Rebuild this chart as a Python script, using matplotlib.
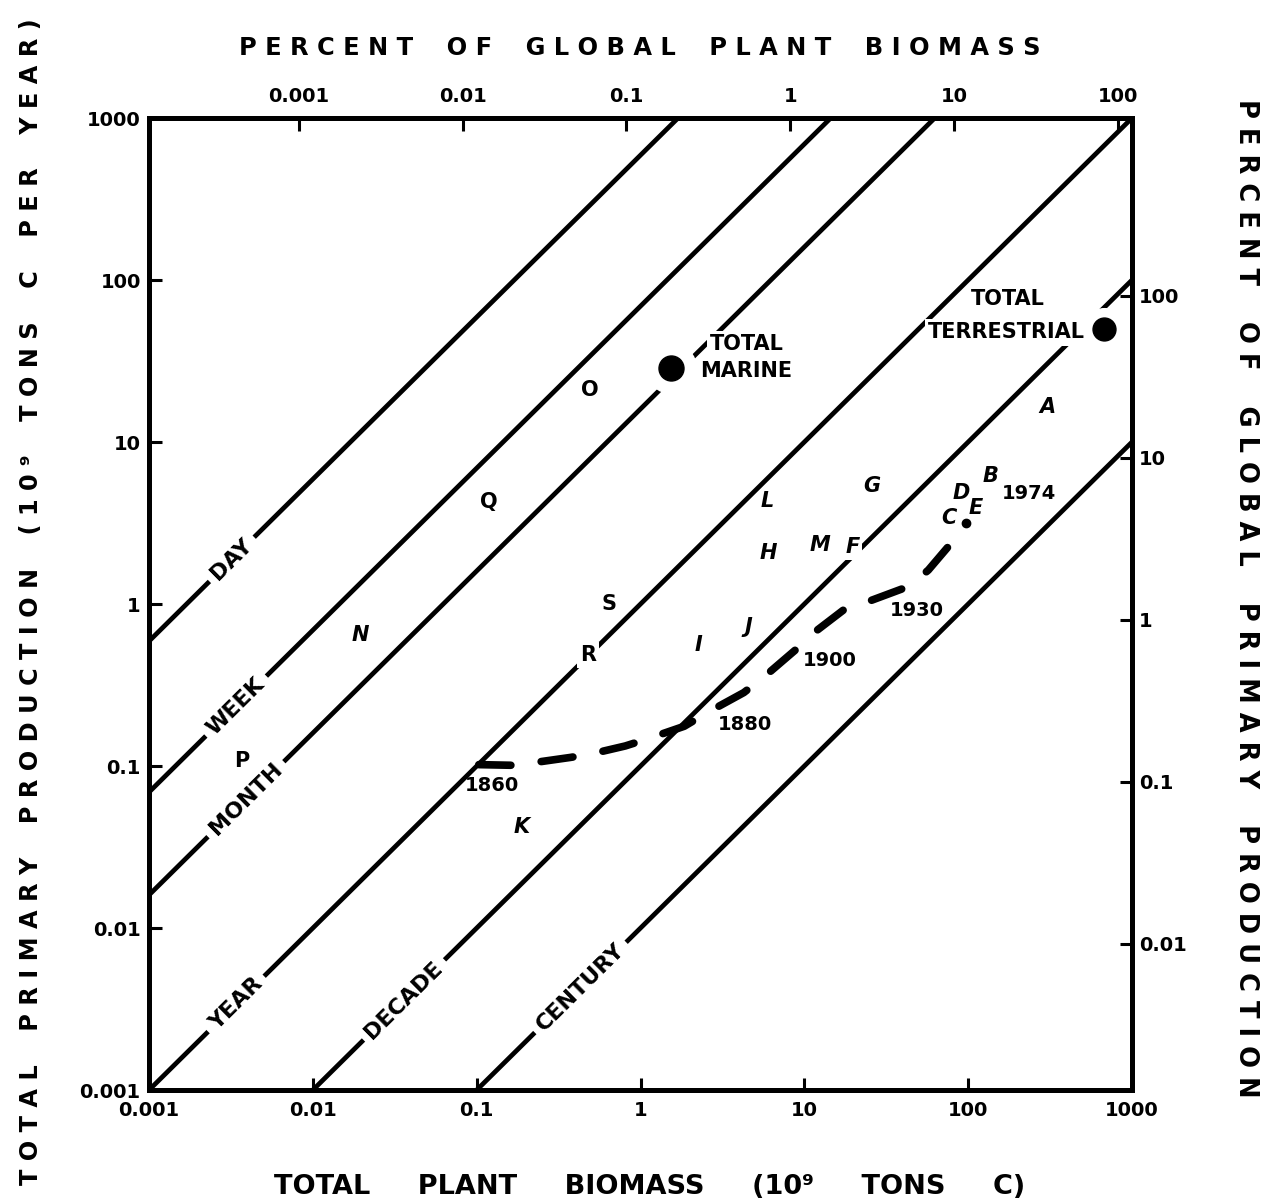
import matplotlib
matplotlib.use('Agg')
import matplotlib.pyplot as plt
from matplotlib.ticker import NullLocator
import numpy as np

plt.rcParams['font.family'] = ['DejaVu Sans']
plt.rcParams['font.weight'] = 'bold'

# axis ticks (10^9 tons C, 10^9 tons C per year)
decades = [0.001, 0.01, 0.1, 1, 10, 100, 1000]
decade_labels = ['0.001', '0.01', '0.1', '1', '10', '100', '1000']

# percent axes
pct_biomass_ticks = [0.001, 0.01, 0.1, 1, 10, 100]
pct_biomass_labels = ['0.001', '0.01', '0.1', '1', '10', '100']
pct_prod_ticks = [0.01, 0.1, 1, 10, 100]
pct_prod_labels = ['0.01', '0.1', '1', '10', '100']
global_biomass = 820.0     # 100 % of plant biomass
global_production = 80.0   # 100 % of primary production

# turnover lines: production / biomass
turnover_names = ['DAY', 'WEEK', 'MONTH', 'YEAR', 'DECADE', 'CENTURY']
turnover_ratio = [590, 69, 16, 1, 0.1, 0.01]
turnover_label_x = [0.0032, 0.0034, 0.0039, 0.0034, 0.036, 0.43]

# lettered points
point_names = ['O', 'Q', 'N', 'P', 'S', 'R', 'K', 'L', 'G', 'H',
               'M', 'F', 'I', 'J', 'A', 'D', 'B', 'E', 'C']
point_biomass = [0.493, 0.118, 0.0194, 0.00366, 0.640, 0.480, 0.187, 5.96, 25.7, 6.01,
                 12.5, 19.6, 2.25, 4.53, 305, 91.2, 137, 111, 76.2]
point_production = [20.8, 4.26, 0.644, 0.108, 1.0, 0.485, 0.0422, 4.35, 5.35, 2.06,
                    2.33, 2.25, 0.555, 0.721, 16.4, 4.85, 6.2, 3.94, 3.40]
point_italic = [False, False, True, False, False, False, True, True, True, True,
                True, True, True, True, True, True, True, True, True]
small_dot = (96.8, 3.18)

# 1860 -> 1974 trajectory
traj_biomass = [0.103, 0.170, 0.216, 0.373, 0.487, 0.807, 1.08, 1.85, 2.54,
                4.27, 5.71, 8.79, 11.8, 18.4, 25.4, 43.9, 57.1, 80.9]
traj_production = [0.102, 0.101, 0.1045, 0.113, 0.118, 0.133, 0.146, 0.176, 0.213,
                   0.284, 0.357, 0.519, 0.682, 0.962, 1.05, 1.29, 1.62, 2.45]
year_names = ['1860', '1880', '1900', '1930', '1974']
year_biomass = [0.124, 4.35, 14.2, 48.6, 234]
year_production = [0.0759, 0.181, 0.447, 0.908, 4.78]

# totals
marine = (1.53, 28.8)
terrestrial = (670, 49.9)


def spaced(words, gap='    '):
    return gap.join(' '.join(w) for w in words)


fig = plt.figure(figsize=(12.61, 12.03), dpi=100)
ax = fig.add_axes([0.1182, 0.0939, 0.7795, 0.8080])
ax.set_xscale('log')
ax.set_yscale('log')
ax.set_xlim(0.001, 1000)
ax.set_ylim(0.001, 1000)

for s in ax.spines.values():
    s.set_linewidth(3.6)

ax.set_xticks(decades, labels=decade_labels)
ax.set_yticks(decades, labels=decade_labels)
ax.xaxis.set_minor_locator(NullLocator())
ax.yaxis.set_minor_locator(NullLocator())
ax.tick_params(direction='in', length=9, width=2.2, labelsize=14, top=False, right=False)
ax.tick_params(axis='x', pad=8)
ax.tick_params(axis='y', pad=6)

secx = ax.secondary_xaxis('top', functions=(lambda x: x / global_biomass * 100,
                                             lambda p: p * global_biomass / 100))
secx.set_ticks(pct_biomass_ticks, labels=pct_biomass_labels)
secx.xaxis.set_minor_locator(NullLocator())
secx.tick_params(direction='in', length=9, width=2.2, labelsize=14, pad=9)
secx.spines['top'].set_linewidth(3.6)

secy = ax.secondary_yaxis('right', functions=(lambda y: y / global_production * 100,
                                               lambda p: p * global_production / 100))
secy.set_ticks(pct_prod_ticks, labels=pct_prod_labels)
secy.yaxis.set_minor_locator(NullLocator())
secy.tick_params(direction='in', length=9, width=2.2, labelsize=14, pad=5)
secy.spines['right'].set_linewidth(3.6)

# angle of a slope-1 line on screen
p0 = ax.transData.transform((1, 1))
p1 = ax.transData.transform((10, 10))
angle = np.degrees(np.arctan2(p1[1] - p0[1], p1[0] - p0[0]))

white_box = dict(boxstyle='square,pad=0.15', fc='white', ec='none')

for name, r, lx in zip(turnover_names, turnover_ratio, turnover_label_x):
    ax.axline((1, r), (10, 10 * r), color='black', lw=3.4, zorder=2)
    ax.text(lx, lx * r, name, rotation=angle, rotation_mode='anchor',
            ha='center', va='center', fontsize=16, zorder=4,
            bbox=dict(boxstyle='square,pad=0.3', fc='white', ec='none'))

# trajectory
ax.plot(traj_biomass, traj_production, color='black', lw=5.5,
        linestyle=(0, (4.2, 4.0)), dash_capstyle='round', zorder=3)
for name, x, y in zip(year_names, year_biomass, year_production):
    ax.text(x, y, name, ha='center', va='center', fontsize=14, zorder=4)

# letters; R and F sit on a line, which is broken around them
for name, x, y, it in zip(point_names, point_biomass, point_production, point_italic):
    ax.text(x, y, name, ha='center', va='center', fontsize=15,
            style='italic' if it else 'normal', zorder=4,
            bbox=white_box if name in ('R', 'F') else None)
ax.plot(*small_dot, 'o', color='black', ms=6, zorder=4)

# totals
ax.plot(*marine, 'o', color='white', ms=36, zorder=2.2)
ax.plot(*marine, 'o', color='black', ms=18, zorder=3)
ax.plot(*terrestrial, 'o', color='white', ms=30, zorder=2.2)
ax.plot(*terrestrial, 'o', color='black', ms=16.5, zorder=3)
ax.text(4.45, 40.4, 'TOTAL', ha='center', va='center', fontsize=15, zorder=4, bbox=white_box)
ax.text(4.42, 27.3, 'MARINE', ha='center', va='center', fontsize=15, zorder=4, bbox=white_box)
ax.text(175, 76, 'TOTAL', ha='center', va='center', fontsize=15, zorder=4, bbox=white_box)
ax.text(172, 47.5, 'TERRESTRIAL', ha='center', va='center', fontsize=15, zorder=4, bbox=white_box)

# axis titles
fig.text(0.507, 0.960, spaced(['PERCENT', 'OF', 'GLOBAL', 'PLANT', 'BIOMASS']),
         ha='center', va='center', fontsize=17.4)
fig.text(0.5155, 1 - 1187 / 1203, 'TOTAL     PLANT     BIOMASS     (10⁹     TONS     C)',
         ha='center', va='center', fontsize=19.5)
fig.text(31 / 1261, 0.5, spaced(['TOTAL', 'PRIMARY', 'PRODUCTION', '(10⁹', 'TONS', 'C', 'PER', 'YEAR)']),
         rotation=90, ha='center', va='center', fontsize=17.3)
fig.text(1246 / 1261, 1 - 598 / 1203, spaced(['PERCENT', 'OF', 'GLOBAL', 'PRIMARY', 'PRODUCTION']),
         rotation=270, ha='center', va='center', fontsize=18.5)

fig.savefig('out.png', dpi=100, facecolor='white')
